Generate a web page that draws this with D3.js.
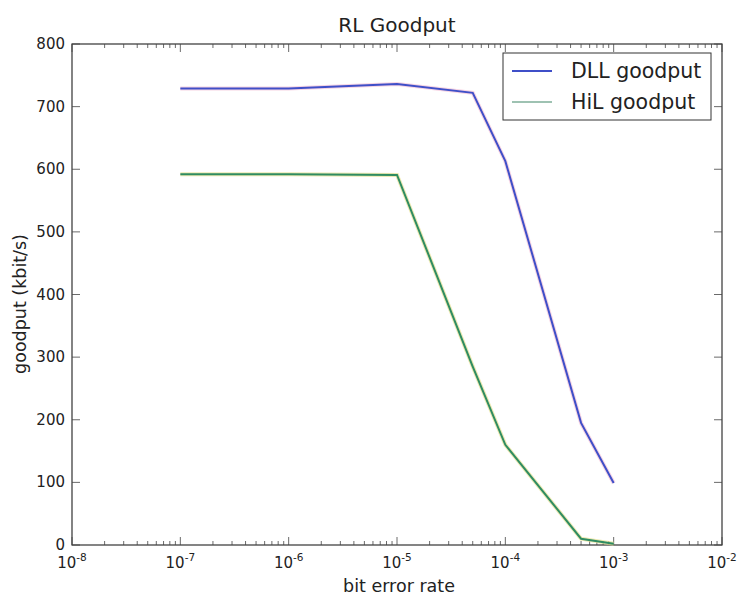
<!DOCTYPE html>
<html><head><meta charset="utf-8">
<script src="https://cdn.jsdelivr.net/npm/d3@7"></script>
<style>body{margin:0;background:#fff;} text{font-family:"DejaVu Sans",sans-serif;fill:#222;}</style>
</head><body>
<svg id="c" width="739" height="599"></svg>
<script>
const berValues = [1e-7, 1e-6, 1e-5, 5e-5, 1e-4, 5e-4, 1e-3];
const dllGoodput = [729, 729, 736, 722, 613, 195, 99];
const hilGoodput = [592, 592, 591, 285, 160, 10, 2];
const seriesNames = ["DLL goodput", "HiL goodput"];
const xTickExps = [-8, -7, -6, -5, -4, -3, -2];
const yTicks = [0, 100, 200, 300, 400, 500, 600, 700, 800];

const svg = d3.select("#c");
const L = 72, R = 722, T = 44, B = 545;
const x = d3.scaleLog().domain([1e-8, 1e-2]).range([L, R]);
const y = d3.scaleLinear().domain([0, 800]).range([B, T]);

// frame
svg.append("rect").attr("x", L).attr("y", T).attr("width", R - L).attr("height", B - T)
  .attr("fill", "none").attr("stroke", "#333").attr("stroke-width", 1.2);

// minor ticks
const minor = [];
for (let e = -8; e < -2; e++) for (let m = 2; m < 10; m++) minor.push(m * Math.pow(10, e));
const tg = svg.append("g").attr("stroke", "#444").attr("stroke-width", 0.8);
minor.forEach(v => {
  tg.append("line").attr("x1", x(v)).attr("x2", x(v)).attr("y1", B).attr("y2", B - 4);
  tg.append("line").attr("x1", x(v)).attr("x2", x(v)).attr("y1", T).attr("y2", T + 4);
});
xTickExps.forEach(e => {
  const v = Math.pow(10, e);
  tg.append("line").attr("x1", x(v)).attr("x2", x(v)).attr("y1", B).attr("y2", B - 8);
  tg.append("line").attr("x1", x(v)).attr("x2", x(v)).attr("y1", T).attr("y2", T + 8);
  const t = svg.append("text").attr("x", x(v)).attr("y", B + 23).attr("text-anchor", "middle")
    .style("font-size", "15px");
  t.append("tspan").text("10");
  t.append("tspan").attr("dy", -7).style("font-size", "10.5px").text("-" + (-e));
});
yTicks.forEach(v => {
  tg.append("line").attr("x1", L).attr("x2", L + 8).attr("y1", y(v)).attr("y2", y(v));
  tg.append("line").attr("x1", R).attr("x2", R - 8).attr("y1", y(v)).attr("y2", y(v));
  svg.append("text").attr("x", L - 7).attr("y", y(v) + 5).attr("text-anchor", "end")
    .style("font-size", "15px").text(v);
});

// lines
const line = d3.line().x(d => x(d[0])).y(d => y(d[1]));
const dll = berValues.map((b, i) => [b, dllGoodput[i]]);
const hil = berValues.map((b, i) => [b, hilGoodput[i]]);
svg.append("path").attr("d", line(dll)).attr("fill", "none").attr("stroke", "#f0b8d0").attr("stroke-width", 4).attr("opacity", 0.6);
svg.append("path").attr("d", line(dll)).attr("fill", "none").attr("stroke", "#3f4fc8").attr("stroke-width", 2);
svg.append("path").attr("d", line(hil)).attr("fill", "none").attr("stroke", "#e6df90").attr("stroke-width", 4).attr("opacity", 0.7);
svg.append("path").attr("d", line(hil)).attr("fill", "none").attr("stroke", "#2f8c62").attr("stroke-width", 2);

// legend
const lg = svg.append("g");
lg.append("rect").attr("x", 503).attr("y", 53).attr("width", 208).attr("height", 67)
  .attr("fill", "#fff").attr("stroke", "#333").attr("stroke-width", 1);
const lcol = ["#3f4fc8", "#5e9a80"];
seriesNames.forEach((n, i) => {
  const yy = 71 + i * 31;
  lg.append("line").attr("x1", 512).attr("x2", 552).attr("y1", yy).attr("y2", yy)
    .attr("stroke", lcol[i]).attr("stroke-width", 2).attr("opacity", i ? 0.6 : 1);
  lg.append("text").attr("x", 571).attr("y", yy + 7).style("font-size", "20.5px").text(n);
});

// titles
svg.append("text").attr("x", 397).attr("y", 32).attr("text-anchor", "middle")
  .style("font-size", "20px").text("RL Goodput");
svg.append("text").attr("x", 399).attr("y", 592).attr("text-anchor", "middle")
  .style("font-size", "17.5px").text("bit error rate");
svg.append("text").attr("transform", `translate(26,304) rotate(-90)`)
  .attr("text-anchor", "middle").style("font-size", "17.5px").text("goodput (kbit/s)");
</script>
</body></html>
